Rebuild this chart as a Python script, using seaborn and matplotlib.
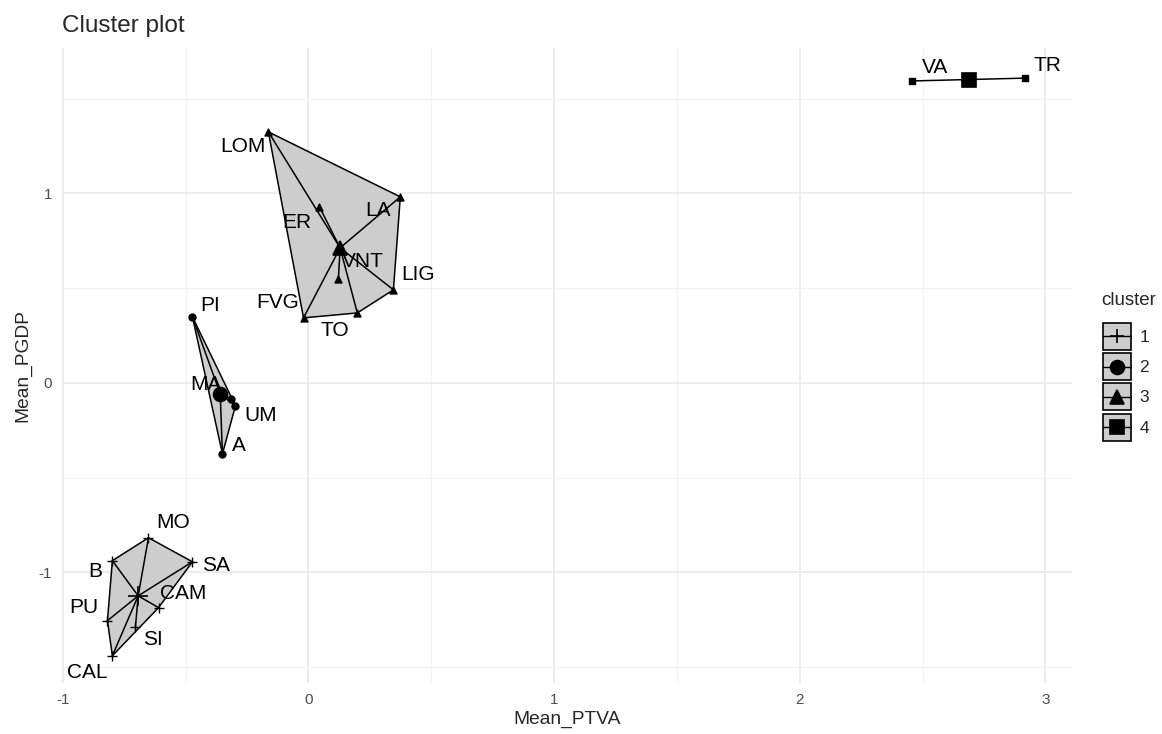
import numpy as np
import pandas as pd
import matplotlib
matplotlib.use("Agg")
import matplotlib.pyplot as plt
import seaborn as sns
from matplotlib.patches import Rectangle
from matplotlib.lines import Line2D
from matplotlib.legend_handler import HandlerBase

# data
regions = ["MO", "SA", "B", "CAM", "PU", "SI", "CAL",
           "PI", "MA", "UM", "A",
           "LOM", "LA", "ER", "VNT", "LIG", "FVG", "TO",
           "VA", "TR"]
mean_ptva = [-0.651, -0.472, -0.798, -0.610, -0.818, -0.704, -0.798,
             -0.472, -0.317, -0.297, -0.350,
             -0.163, 0.374, 0.045, 0.122, 0.346, -0.020, 0.199,
             2.458, 2.918]
mean_pgdp = [-0.818, -0.945, -0.939, -1.187, -1.256, -1.288, -1.441,
             0.348, -0.084, -0.121, -0.375,
             1.325, 0.982, 0.929, 0.549, 0.491, 0.343, 0.369,
             1.594, 1.609]
cluster = ["1", "1", "1", "1", "1", "1", "1",
           "2", "2", "2", "2",
           "3", "3", "3", "3", "3", "3", "3",
           "4", "4"]

# label offsets (pixels) as placed by the repel in the reference
label_off = {"MO": (25, 15), "SA": (24, -4), "B": (-17, -11), "CAM": (25, 14),
             "PU": (-24, 13), "SI": (17, -13), "CAL": (-25, -17),
             "PI": (18, 11), "MA": (-25, 14), "UM": (25, -10), "A": (16, 8),
             "LOM": (-25, -15), "LA": (-22, -14), "ER": (-23, -16),
             "VNT": (24, 17), "LIG": (25, 15), "FVG": (-26, 15), "TO": (-22, -18),
             "VA": (23, 13), "TR": (22, 13)}

df = pd.DataFrame({"name": regions, "x": mean_ptva, "y": mean_pgdp, "cluster": cluster})
markers = {"1": "+", "2": "o", "3": "^", "4": "s"}
msize = {"1": 7, "2": 5, "3": 5, "4": 5}


def hull(pts):
    pts = sorted(set(map(tuple, pts)))
    if len(pts) < 3:
        return pts

    def cross(o, a, b):
        return (a[0] - o[0]) * (b[1] - o[1]) - (a[1] - o[1]) * (b[0] - o[0])
    lower, upper = [], []
    for p in pts:
        while len(lower) >= 2 and cross(lower[-2], lower[-1], p) <= 0:
            lower.pop()
        lower.append(p)
    for p in reversed(pts):
        while len(upper) >= 2 and cross(upper[-2], upper[-1], p) <= 0:
            upper.pop()
        upper.append(p)
    return lower[:-1] + upper[:-1]


class KeyHandler(HandlerBase):
    # grey box with a centred line and marker, like the ggplot key
    def create_artists(self, legend, orig, xdescent, ydescent, width, height, fontsize, trans):
        x0, y0 = -xdescent, -ydescent
        ym = y0 + height / 2
        box = Rectangle((x0, y0), width, height, facecolor="#cdcdcd",
                        edgecolor="black", linewidth=1.2, transform=trans)
        ln = Line2D([x0, x0 + width], [ym, ym], color="black", linewidth=1, transform=trans)
        mk = Line2D([x0 + width / 2], [ym], marker=orig.get_marker(), color="black",
                    markersize=10, markeredgewidth=1.2, linestyle="none", transform=trans)
        return [box, ln, mk]


sns.set_theme(style="whitegrid")
plt.rcParams["font.family"] = ["Liberation Sans", "DejaVu Sans"]

fig = plt.figure(figsize=(11.62, 7.34), dpi=100)
ax = fig.add_axes([62 / 1162, 1 - 683 / 734, 1010 / 1162, 635 / 734])
ax.set_facecolor("white")

centers = df.groupby("cluster")[["x", "y"]].mean()

for cl, sub in df.groupby("cluster"):
    h = hull(sub[["x", "y"]].values)
    if len(h) >= 3:
        hx = [p[0] for p in h] + [h[0][0]]
        hy = [p[1] for p in h] + [h[0][1]]
        ax.fill(hx, hy, facecolor="#cdcdcd", edgecolor="black", linewidth=1.1, zorder=2)
    cx, cy = centers.loc[cl]
    for _, r in sub.iterrows():
        ax.plot([cx, r.x], [cy, r.y], color="black", linewidth=1.1, zorder=3)
    ax.plot([cx], [cy], marker=markers[cl], color="black", markersize=msize[cl] * 2,
            markeredgewidth=1.2, linestyle="none", zorder=5)
    sns.scatterplot(data=sub, x="x", y="y", marker=markers[cl], color="black",
                    s=msize[cl] ** 2, linewidth=1.0, edgecolor="black",
                    legend=False, ax=ax, zorder=4)

for _, r in df.iterrows():
    dx, dy = label_off[r["name"]]
    ax.annotate(r["name"], (r.x, r.y), xytext=(dx * 0.72, dy * 0.72),
                textcoords="offset points", ha="center", va="center",
                fontsize=15, color="black", zorder=6)

ax.set_xlim(-1.003, 3.108)
ax.set_ylim(-1.585, 1.768)
ax.set_xticks([-1, 0, 1, 2, 3])
ax.set_xticklabels(["-1", "0", "1", "2", "3"])
ax.set_yticks([-1, 0, 1])
ax.set_yticklabels(["-1", "0", "1"])
ax.set_xticks([-0.5, 0.5, 1.5, 2.5], minor=True)
ax.set_yticks([-1.5, -0.5, 0.5, 1.5], minor=True)
ax.grid(which="major", color="#ebebeb", linewidth=1.3)
ax.grid(which="minor", color="#f2f2f2", linewidth=0.7)
ax.tick_params(which="major", length=3, width=1, color="#333333",
               labelsize=11, labelcolor="#4d4d4d", pad=4)
ax.tick_params(which="minor", length=0)
for s in ax.spines.values():
    s.set_visible(False)
ax.set_xlabel("Mean_PTVA", fontsize=13.8, labelpad=3)
ax.set_ylabel("Mean_PGDP", fontsize=13.8, labelpad=5)
fig.text(62 / 1162, 1 - 26 / 734, "Cluster plot", fontsize=17.5, ha="left", va="center")

handles = [Line2D([], [], color="black", marker=markers[cl]) for cl in ["1", "2", "3", "4"]]
fig.text(1101 / 1162, 1 - 300 / 734, "cluster", fontsize=13.5, ha="left", va="center")
leg = fig.legend(handles, ["1", "2", "3", "4"],
                 handler_map={Line2D: KeyHandler()},
                 loc="upper left", bbox_to_anchor=(1089 / 1162, 1 - 309 / 734),
                 frameon=False, fontsize=12.5,
                 handlelength=1.6, handleheight=2.0, handletextpad=0.5,
                 labelspacing=0.2, borderpad=0.3)

fig.savefig("out.png", dpi=100)
